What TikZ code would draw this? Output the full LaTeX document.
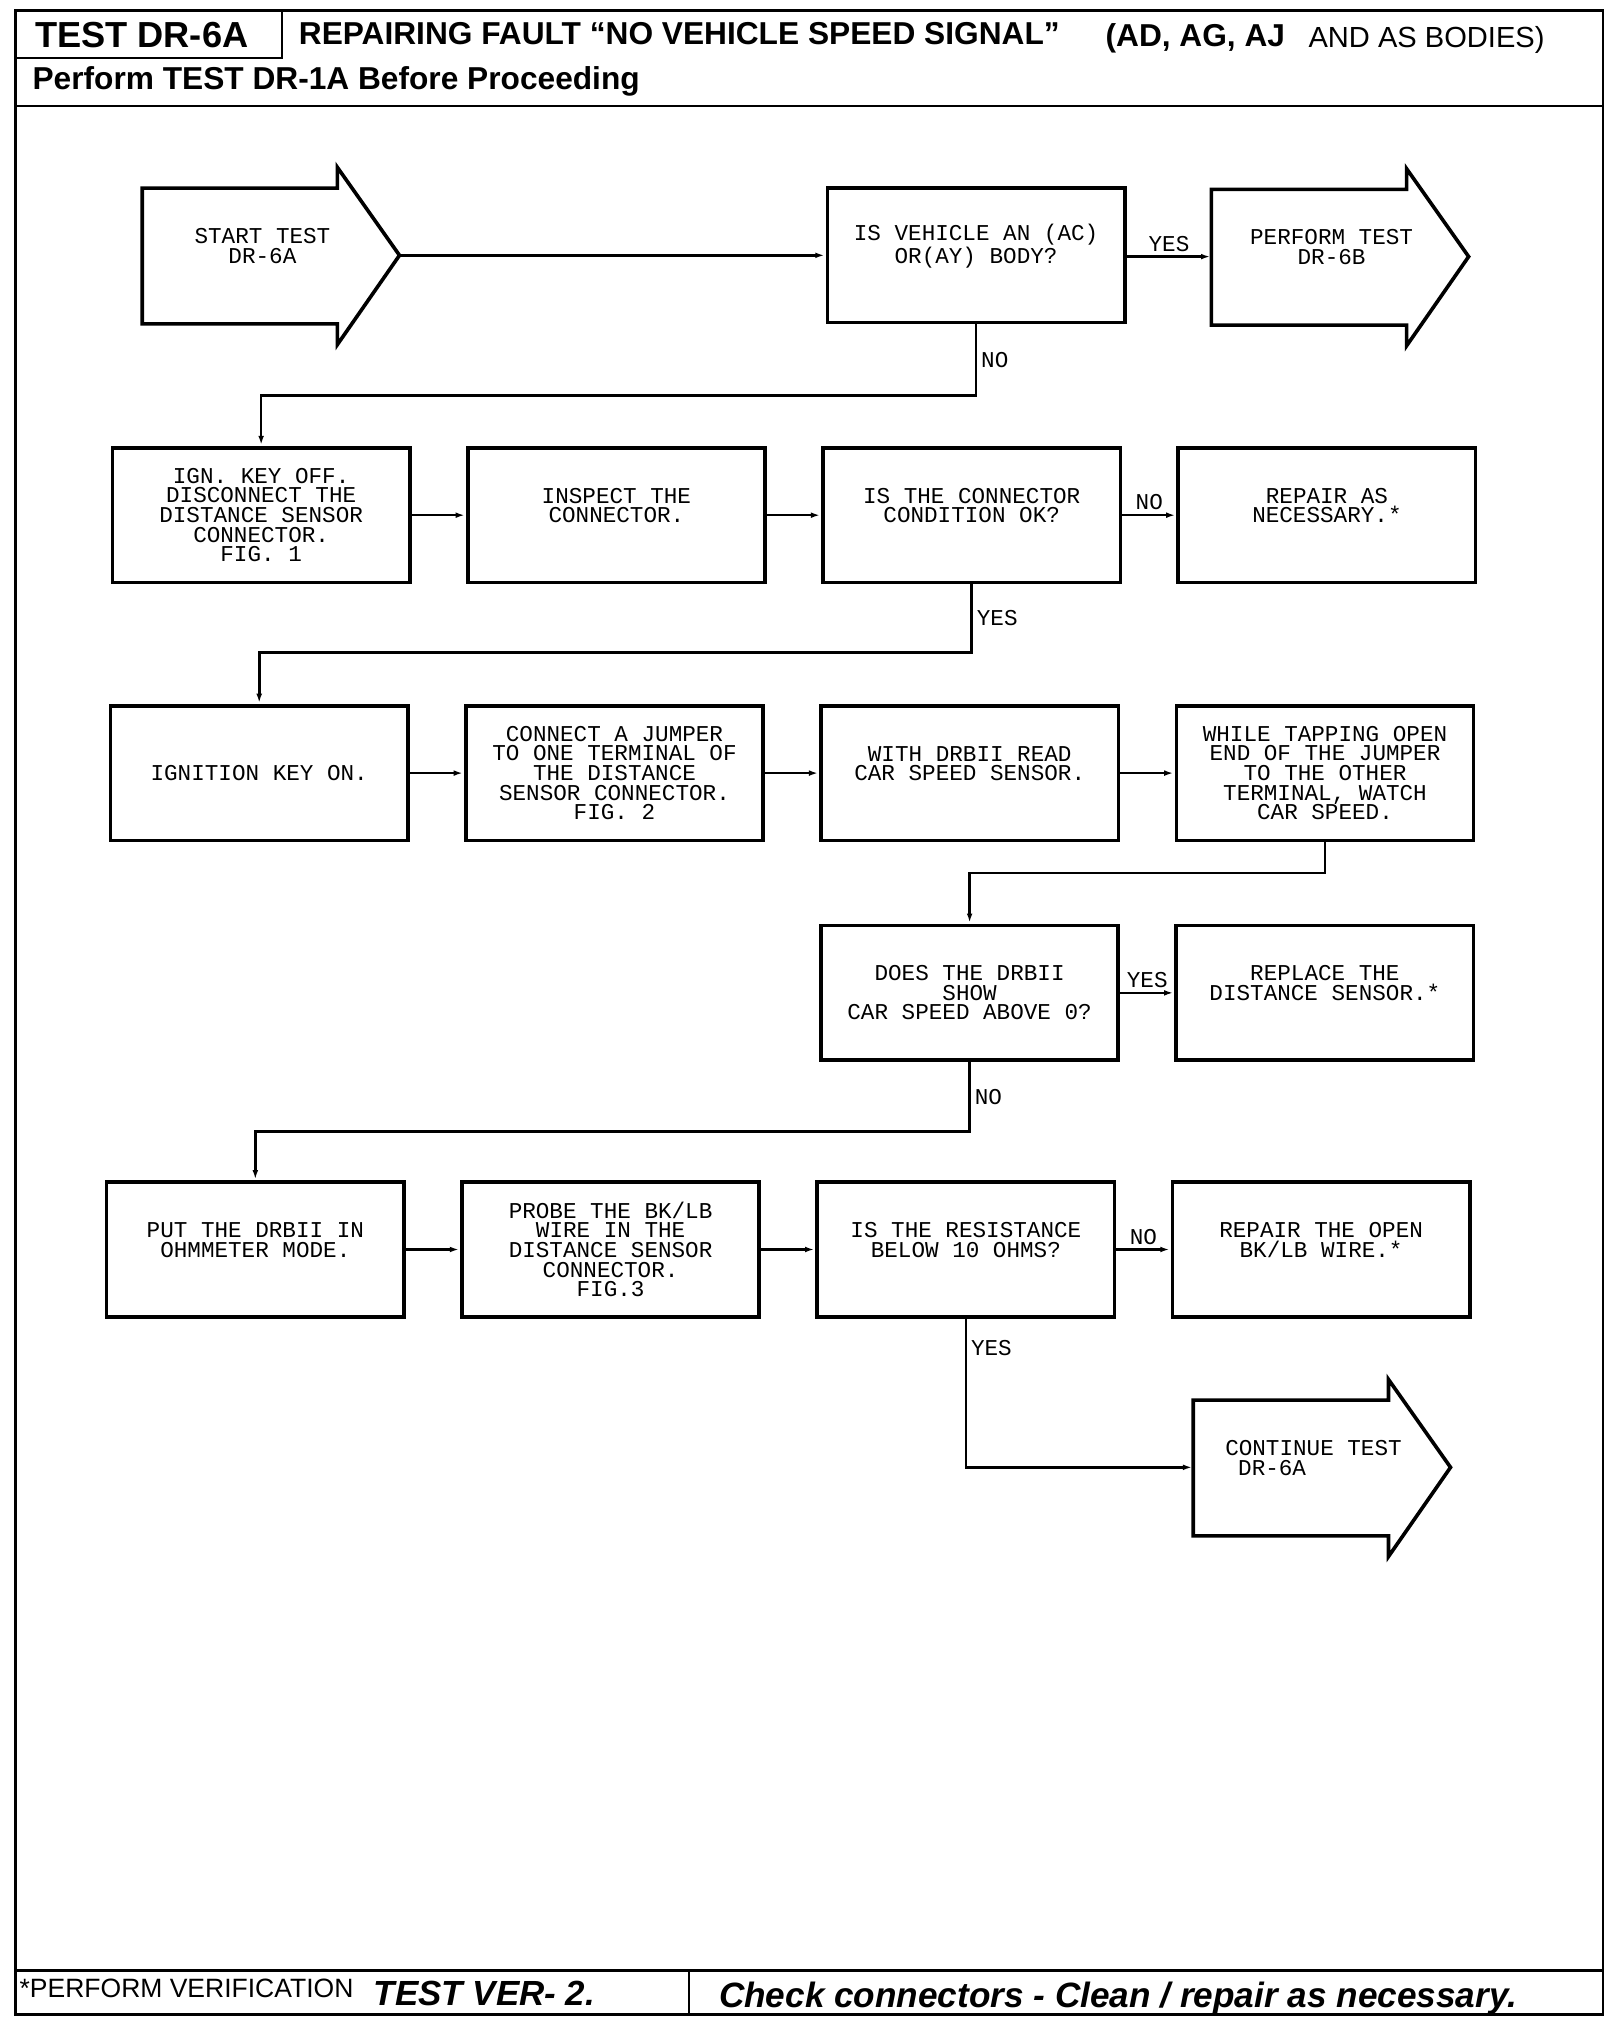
\documentclass[tikz,border=0pt]{standalone}
\usepackage{fontspec}
\setmainfont{Liberation Sans}
\newfontfamily\plotfont{Liberation Mono}
\usetikzlibrary{arrows.meta,positioning,calc}

\newcommand\boxfont{\plotfont\fontsize{17.5}{15.2}\selectfont}
\newcommand\testarrow[1]{%
  \draw[outline] ($(#1)+(-93,-52)$) -- ($(#1)+(58,-52)$) -- ($(#1)+(58,-68)$)
    -- ($(#1)+(106,0)$) -- ($(#1)+(58,69)$) -- ($(#1)+(58,53)$) -- ($(#1)+(-93,53)$) -- cycle;
  \coordinate (#1 tail) at ($(#1)+(-93,0)$);
  \coordinate (#1 tip) at ($(#1)+(106,0)$);}

\begin{document}
\begin{tikzpicture}[x=1pt,y=-1pt,node distance=42pt,>={Latex[length=7pt,width=4.5pt]}]
  \tikzstyle{outline}=[line width=2.8pt,line join=miter]
  \tikzstyle{box}=[draw,line width=2.8pt,minimum width=230pt,minimum height=104pt,
                   align=center,font=\boxfont,inner sep=0pt]
  \tikzstyle{arrowtext}=[align=center,font=\boxfont,inner sep=0pt]
  \tikzstyle{twoline}=[text height=32pt,text depth=20pt]
  \tikzstyle{flow}=[->,line width=2pt,shorten >=1pt]
  \tikzstyle{lbl}=[font=\boxfont,inner sep=3pt]
  \tikzstyle{frame}=[line width=2pt]
  \tikzstyle{head}=[anchor=west,inner sep=0pt]

  \useasboundingbox (0,0) rectangle (1250,1562.5);

  % sheet, header and footer
  \draw[frame] (12,8) rectangle (1240,1558);
  \draw[frame] (218,8) -- (218,45) -- (12,45);
  \draw[frame] (12,82) -- (1240,82);
  \draw[frame] (12,1524) -- (1240,1524);
  \draw[frame] (533,1524) -- (533,1558);
  \node[head,font=\fontsize{28}{30}\selectfont\bfseries] (testid) at (27,27) {TEST DR-6A};
  \node[head,font=\fontsize{24.5}{26}\selectfont\bfseries] (title) at (231,26) {REPAIRING FAULT “NO VEHICLE SPEED SIGNAL”};
  \node[head,font=\fontsize{24.5}{26}\selectfont\bfseries] (bodies) at (855,30) {(AD, AG, AJ};
  \node[head,font=\fontsize{22.5}{24}\selectfont] (asbodies) at (1012,31) {AND AS BODIES)};
  \node[head,font=\fontsize{24.5}{26}\selectfont\bfseries] (before) at (25,63) {Perform TEST DR-1A Before Proceeding};
  \node[head,font=\fontsize{20.5}{22}\selectfont] (verify) at (15,1538) {*PERFORM VERIFICATION};
  \node[head,font=\fontsize{27}{29}\selectfont\bfseries\itshape] (ver) at (289,1542) {TEST VER- 2.};
  \node[head,font=\fontsize{27.2}{29}\selectfont\bfseries\itshape] (clean) at (556,1546) {Check connectors - Clean / repair as necessary.};

  % first row
  \node[arrowtext,twoline] (start) at (203,197.5) {START TEST\\DR-6A};
  \testarrow{start}
  \node[box,twoline] (q1) at (755,197.5) {IS VEHICLE AN (AC)\\OR(AY) BODY?};
  \node[arrowtext,twoline] (perform) at (1030,198.5) {PERFORM TEST\\DR-6B};
  \testarrow{perform}

  % second row
  \node[box] (b1) at (202,398.5) {IGN. KEY OFF.\\DISCONNECT THE\\DISTANCE SENSOR\\CONNECTOR.\\FIG. 1};
  \node[box,twoline,right=of b1] (b2) {INSPECT THE\\CONNECTOR.};
  \node[box,twoline,right=of b2] (b3) {IS THE CONNECTOR\\CONDITION OK?};
  \node[box,twoline,right=of b3] (b4) {REPAIR AS\\NECESSARY.*};

  % third row
  \node[box] (c1) at (200.5,598) {IGNITION KEY ON.};
  \node[box,right=of c1] (c2) {CONNECT A JUMPER\\TO ONE TERMINAL OF\\THE DISTANCE\\SENSOR CONNECTOR.\\FIG. 2};
  \node[box,twoline,right=of c2] (c3) {WITH DRBII READ\\CAR SPEED SENSOR.};
  \node[box,right=of c3] (c4) {WHILE TAPPING OPEN\\END OF THE JUMPER\\TO THE OTHER\\TERMINAL, WATCH\\CAR SPEED.};

  % fourth row
  \node[box] (d1) at (750,768) {DOES THE DRBII\\SHOW\\CAR SPEED ABOVE 0?};
  \node[box,twoline,right=of d1] (d2) {REPLACE THE\\DISTANCE SENSOR.*};

  % fifth row
  \node[box,twoline] (e1) at (197.5,966.5) {PUT THE DRBII IN\\OHMMETER MODE.};
  \node[box,right=of e1] (e2) {PROBE THE BK/LB\\WIRE IN THE\\DISTANCE SENSOR\\CONNECTOR.\\FIG.3};
  \node[box,twoline,right=of e2] (e3) {IS THE RESISTANCE\\BELOW 10 OHMS?};
  \node[box,twoline,right=of e3] (e4) {REPAIR THE OPEN\\BK/LB WIRE.*};

  \node[arrowtext,twoline,align=left] (cont) at (1016,1135) {CONTINUE TEST\\\hspace*{10pt}DR-6A};
  \testarrow{cont}

  \draw[flow] (start tip) -- (start tip -| q1.west);
  \draw[flow] (q1.east |- perform tail) -- node[lbl,above] {YES} (perform tail);
  \draw[flow] (q1.south) -- node[lbl,right] {NO} ++(0,55) -| (b1.north);
  \draw[flow] (b1) -- (b2);
  \draw[flow] (b2) -- (b3);
  \draw[flow] (b3) -- node[lbl,above] {NO} (b4);
  \draw[flow] (b3.south) -- node[lbl,right] {YES} ++(0,53) -| (c1.north);
  \draw[flow] (c1) -- (c2);
  \draw[flow] (c2) -- (c3);
  \draw[flow] (c3) -- (c4);
  \draw[flow] (c4.south) -- ++(0,24) -| (d1.north);
  \draw[flow] (d1) -- node[lbl,above] {YES} (d2);
  \draw[flow] (d1.south) -- node[lbl,right] {NO} ++(0,54) -| (e1.north);
  \draw[flow] (e1) -- (e2);
  \draw[flow] (e2) -- (e3);
  \draw[flow] (e3) -- node[lbl,above] {NO} (e4);
  \draw[flow] (e3.south) |- node[lbl,right,pos=0.1] {YES} (cont tail);
\end{tikzpicture}
\end{document}
